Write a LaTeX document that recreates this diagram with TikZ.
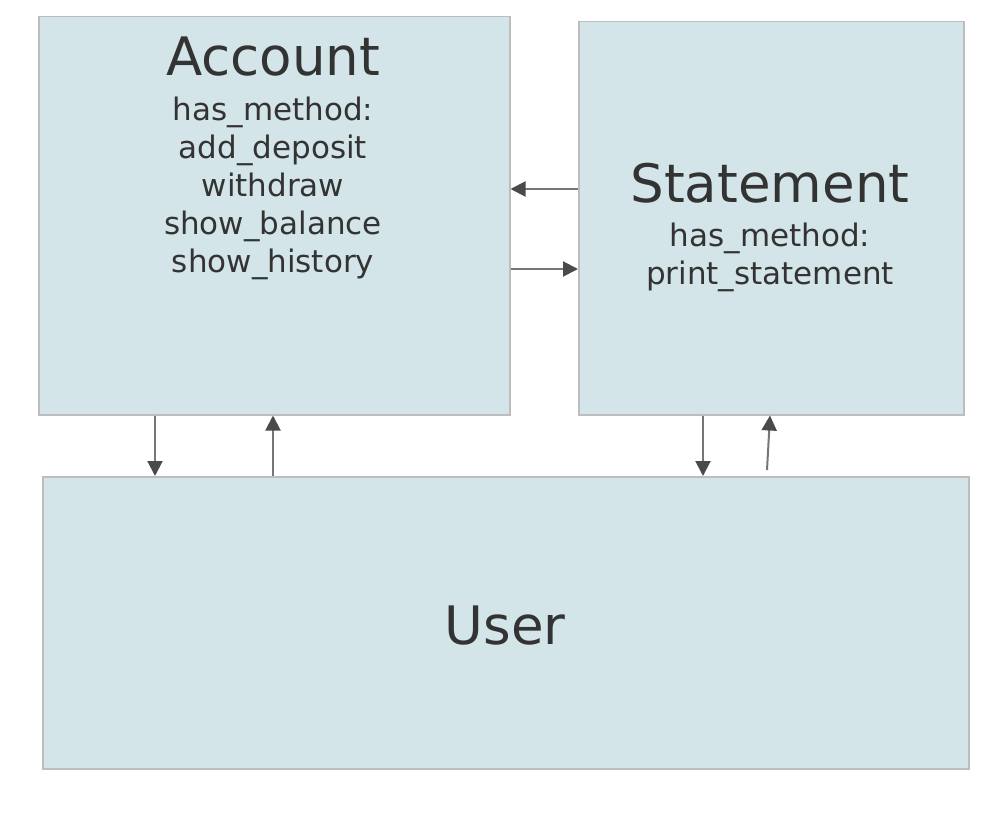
\documentclass[tikz,border=0pt]{standalone}
\usepackage{fontspec}
\setmainfont{DejaVu Sans}
\usetikzlibrary{arrows.meta}
\definecolor{boxfill}{HTML}{D3E5E9}
\definecolor{boxline}{HTML}{BDBDBD}
\definecolor{arrline}{HTML}{767676}
\definecolor{arrhead}{HTML}{4A4A4A}
\definecolor{txt}{HTML}{333333}
\tikzset{
  cls/.style={draw=boxline, fill=boxfill, line width=1.5pt, minimum width=#1, inner sep=0pt, anchor=north west},
  title/.style={text=txt, font=\fontsize{53}{60}\selectfont, inner sep=0pt},
  methods/.style={text=txt, font=\fontsize{31}{38}\selectfont, align=center, inner sep=0pt},
  arr/.style={draw=arrline, line width=2pt, -{Triangle[length=15pt,width=15pt,color=arrhead]}}
}
\begin{document}
\begin{tikzpicture}[x=1pt,y=1pt]
\useasboundingbox (0,0) rectangle (1000,-818);
\node[cls=471pt, minimum height=398pt] (account) at (38,-16) {};
\node[cls=385pt, minimum height=393pt] (statement) at (578,-21) {};
\node[cls=926pt, minimum height=292pt] (user) at (42,-476) {};
\node[title] (acctitle) at (273,-57) {Account};
\node[methods] (accmeth) at (273,-188) {has\_method:\\add\_deposit\\withdraw\\show\_balance\\show\_history};
\node[title] (sttitle) at (770,-183) {Statement};
\node[methods] (stmeth) at (770,-257) {has\_method:\\print\_statement};
\node[title] (usertitle) at (505,-626) {User};
\coordinate (u2) at (767,-470);
\draw[arr] (statement.west |- 0,-189) -- (account.east |- 0,-189);
\draw[arr] (account.east |- 0,-269) -- (statement.west |- 0,-269);
\draw[arr] (account.south -| 155,0) -- (user.north -| 155,0);
\draw[arr] (user.north -| 273,0) -- (account.south -| 273,0);
\draw[arr] (statement.south -| 703,0) -- (user.north -| 703,0);
\draw[arr] (u2) -- (statement.south -| 770,0);
\end{tikzpicture}
\end{document}
